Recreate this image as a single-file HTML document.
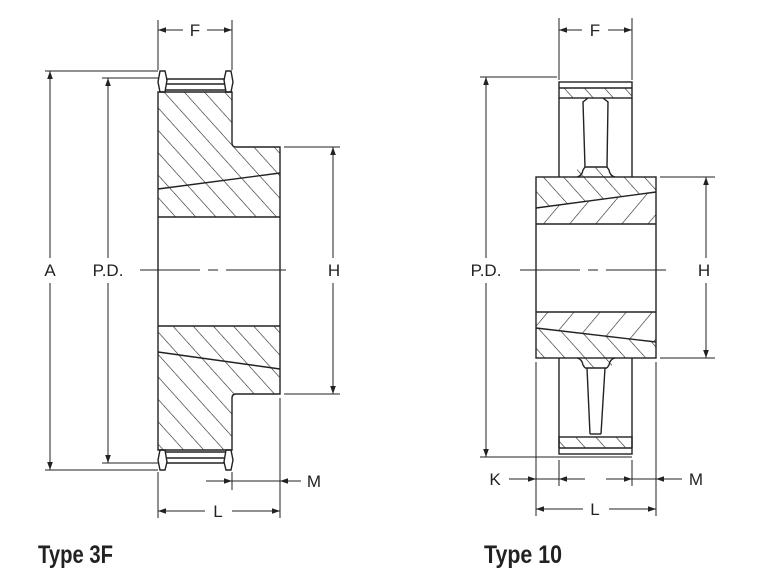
<!DOCTYPE html>
<html><head><meta charset="utf-8"><style>
html,body{margin:0;padding:0;background:#fff;}
svg{display:block;}
text{font-family:"Liberation Sans",sans-serif;fill:#222;}
</style></head><body>
<svg width="764" height="588" viewBox="0 0 764 588" xmlns="http://www.w3.org/2000/svg">
<defs>
<pattern id="hb" width="15" height="15" patternUnits="userSpaceOnUse" patternTransform="rotate(-42)">
<line x1="0" y1="0" x2="0" y2="15" stroke="#222" stroke-width="1.2"/>
</pattern>
<pattern id="hf" width="20" height="20" patternUnits="userSpaceOnUse" patternTransform="rotate(40)">
<line x1="0" y1="0" x2="0" y2="20" stroke="#222" stroke-width="1.2"/>
</pattern>
<marker id="ar" viewBox="0 0 10 10" refX="10" refY="5" markerWidth="10" markerHeight="8" orient="auto-start-reverse" markerUnits="userSpaceOnUse">
<path d="M0,1.5 L10,5 L0,8.5 z" fill="#222"/>
</marker>
</defs>

<g stroke="#222" stroke-width="1.4" fill="none">
<!-- ===== Type 3F ===== -->
<path d="M158,92 H232 V147 H280 V217 H158 Z" fill="url(#hb)" stroke="none"/>
<path d="M158,326 H280 V394 H232 V450 H158 Z" fill="url(#hb)" stroke="none"/>
<path d="M158,92 H232 V143 Q232,147 236,147 H280 V394 H236 Q232,394 232,398 V450 H158 Z"/>
<line x1="158" y1="217" x2="280" y2="217"/>
<line x1="158" y1="326" x2="280" y2="326"/>
<line x1="158" y1="189" x2="280" y2="173"/>
<line x1="158" y1="352" x2="280" y2="369"/>
<path d="M160,71 L165,71 L167,80 L165,92 L160,92 L158,82 Z"/>
<path d="M226,71 L231,71 L233,82 L231,92 L226,92 L224,80 Z"/>
<line x1="166" y1="79" x2="225" y2="79"/>
<line x1="166" y1="84" x2="225" y2="84"/>
<line x1="166" y1="90" x2="225" y2="90"/>
<path d="M160,450 L165,450 L167,462 L165,470 L160,470 L158,460 Z"/>
<path d="M226,450 L231,450 L233,460 L231,470 L226,470 L224,462 Z"/>
<line x1="166" y1="452" x2="225" y2="452"/>
<line x1="166" y1="458" x2="225" y2="458"/>
<line x1="166" y1="463" x2="225" y2="463"/>
<line x1="140" y1="270" x2="290" y2="270" stroke-dasharray="60,8,10,8" stroke-width="1"/>
</g>
<g stroke="#222" stroke-width="1" fill="none">
<line x1="158" y1="20" x2="158" y2="70"/>
<line x1="232" y1="20" x2="232" y2="70"/>
<line x1="45" y1="71" x2="158" y2="71"/>
<line x1="45" y1="470" x2="158" y2="470"/>
<line x1="102" y1="78" x2="158" y2="78"/>
<line x1="102" y1="463" x2="158" y2="463"/>
<line x1="284" y1="147" x2="340" y2="147"/>
<line x1="284" y1="394" x2="340" y2="394"/>
<line x1="158" y1="472" x2="158" y2="518"/>
<line x1="280" y1="398" x2="280" y2="518"/>
<line x1="232" y1="472" x2="232" y2="490"/>
<line x1="158" y1="30" x2="183" y2="30" marker-start="url(#ar)"/>
<line x1="207" y1="30" x2="232" y2="30" marker-end="url(#ar)"/>
<line x1="50" y1="71" x2="50" y2="258" marker-start="url(#ar)"/>
<line x1="50" y1="283" x2="50" y2="470" marker-end="url(#ar)"/>
<line x1="108" y1="78" x2="108" y2="258" marker-start="url(#ar)"/>
<line x1="108" y1="283" x2="108" y2="463" marker-end="url(#ar)"/>
<line x1="333" y1="147" x2="333" y2="258" marker-start="url(#ar)"/>
<line x1="333" y1="283" x2="333" y2="394" marker-end="url(#ar)"/>
<line x1="158" y1="511" x2="205" y2="511" marker-start="url(#ar)"/>
<line x1="232" y1="511" x2="280" y2="511" marker-end="url(#ar)"/>
<line x1="206" y1="481" x2="232" y2="481" marker-end="url(#ar)"/>
<line x1="232" y1="481" x2="280" y2="481"/>
<line x1="280" y1="481" x2="301" y2="481" marker-start="url(#ar)"/>
</g>
<text x="195" y="36" font-size="17" text-anchor="middle">F</text>
<text x="50" y="276" font-size="17" text-anchor="middle">A</text>
<text x="108" y="276" font-size="17" text-anchor="middle">P.D.</text>
<text x="334" y="276" font-size="17" text-anchor="middle">H</text>
<text x="218" y="517" font-size="17" text-anchor="middle">L</text>
<text x="314" y="487" font-size="17" text-anchor="middle">M</text>

<!-- ===== Type 10 ===== -->
<g stroke="#222" stroke-width="1.4" fill="none">
<rect x="559" y="88" width="73" height="10" fill="url(#hb)" stroke="none"/>
<rect x="559" y="82" width="73" height="16"/>
<line x1="559" y1="88" x2="632" y2="88"/>
<path d="M559,98 V177 M632,98 V177"/>
<path d="M588,98 L583,102 L585,167 M603,98 L608,102 L607,167"/>
<line x1="585" y1="167" x2="607" y2="167"/>
<path d="M536,177 H577 V167 H612 V177 H656 V192 L536,208 Z" fill="url(#hb)" stroke="none"/>
<path d="M536,208 L656,192 V224 H536 Z" fill="url(#hf)" stroke="none"/>
<path d="M536,312 H656 V342 L536,328 Z" fill="url(#hf)" stroke="none"/>
<path d="M536,328 L656,342 V358 H612 V368 H577 V358 H536 Z" fill="url(#hb)" stroke="none"/>
<rect x="536" y="177" width="120" height="181"/>
<path d="M585,167 L583,170 Q582,176 577,177 M607,167 L609,170 Q610,176 615,177"/>
<path d="M585,368 L583,365 Q582,359 577,358 M607,368 L609,365 Q610,359 615,358"/>
<line x1="536" y1="224" x2="656" y2="224"/>
<line x1="536" y1="312" x2="656" y2="312"/>
<line x1="536" y1="208" x2="656" y2="192"/>
<line x1="536" y1="328" x2="656" y2="342"/>
<path d="M559,358 V448 M632,358 V448"/>
<line x1="585" y1="368" x2="607" y2="368"/>
<path d="M587,368 L590,434 M605,368 L601,434"/>
<line x1="590" y1="434" x2="601" y2="434"/>
<rect x="559" y="437" width="73" height="11" fill="url(#hb)" stroke="none"/>
<rect x="559" y="437" width="73" height="17"/>
<line x1="559" y1="448" x2="632" y2="448"/>
<line x1="520" y1="270" x2="670" y2="270" stroke-dasharray="60,8,10,8" stroke-width="1"/>
</g>
<g stroke="#222" stroke-width="1" fill="none">
<line x1="559" y1="18" x2="559" y2="80"/>
<line x1="632" y1="18" x2="632" y2="80"/>
<line x1="480" y1="77" x2="557" y2="77"/>
<line x1="480" y1="457" x2="632" y2="457"/>
<line x1="660" y1="177" x2="715" y2="177"/>
<line x1="660" y1="358" x2="715" y2="358"/>
<line x1="536" y1="362" x2="536" y2="516"/>
<line x1="656" y1="362" x2="656" y2="516"/>
<line x1="559" y1="460" x2="559" y2="486"/>
<line x1="632" y1="460" x2="632" y2="486"/>
<line x1="559" y1="30" x2="582" y2="30" marker-start="url(#ar)"/>
<line x1="608" y1="30" x2="632" y2="30" marker-end="url(#ar)"/>
<line x1="486" y1="77" x2="486" y2="258" marker-start="url(#ar)"/>
<line x1="486" y1="283" x2="486" y2="457" marker-end="url(#ar)"/>
<line x1="706" y1="177" x2="706" y2="258" marker-start="url(#ar)"/>
<line x1="706" y1="283" x2="706" y2="358" marker-end="url(#ar)"/>
<line x1="509" y1="479" x2="536" y2="479" marker-end="url(#ar)"/>
<line x1="536" y1="479" x2="559" y2="479"/>
<line x1="559" y1="479" x2="585" y2="479" marker-start="url(#ar)"/>
<line x1="606" y1="479" x2="632" y2="479" marker-end="url(#ar)"/>
<line x1="632" y1="479" x2="656" y2="479"/>
<line x1="656" y1="479" x2="682" y2="479" marker-start="url(#ar)"/>
<line x1="536" y1="509" x2="583" y2="509" marker-start="url(#ar)"/>
<line x1="609" y1="509" x2="656" y2="509" marker-end="url(#ar)"/>
</g>
<text x="595" y="36" font-size="17" text-anchor="middle">F</text>
<text x="486" y="276" font-size="17" text-anchor="middle">P.D.</text>
<text x="704" y="276" font-size="17" text-anchor="middle">H</text>
<text x="495" y="485" font-size="17" text-anchor="middle">K</text>
<text x="696" y="485" font-size="17" text-anchor="middle">M</text>
<text x="595" y="515" font-size="17" text-anchor="middle">L</text>

<text x="38" y="563" font-size="25" font-weight="bold" textLength="75" lengthAdjust="spacingAndGlyphs">Type 3F</text>
<text x="484" y="563" font-size="25" font-weight="bold" textLength="78" lengthAdjust="spacingAndGlyphs">Type 10</text>
</svg>
</body></html>
